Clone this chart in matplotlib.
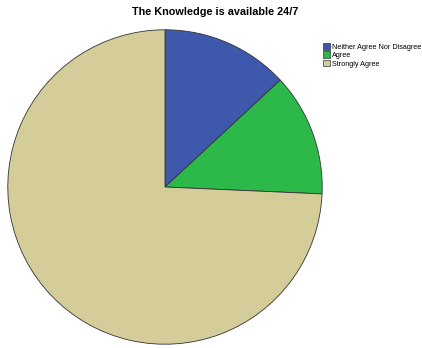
import matplotlib

matplotlib.use("Agg")

import matplotlib.pyplot as plt
from matplotlib.patches import Patch

categories = ["Neither Agree Nor Disagree", "Agree", "Strongly Agree"]
shares = [13.1, 12.6, 74.3]
colors = ["#3e58ac", "#2db84a", "#d4cc99"]

plt.rcParams["font.family"] = ["Liberation Sans", "DejaVu Sans"]

fig = plt.figure(figsize=(4.22, 3.48), dpi=100)
ax = fig.add_axes([7 / 422, 3 / 348, 316 / 422, 316 / 348])
ax.pie(
    shares,
    colors=colors,
    startangle=90,
    counterclock=False,
    wedgeprops={"edgecolor": "#333333", "linewidth": 0.6},
)
ax.set_xlim(-1.005, 1.005)
ax.set_ylim(-1.005, 1.005)
ax.set_aspect("equal")

fig.text(215 / 422, 1 - 12 / 348, "The Knowledge is available 24/7",
         ha="center", va="center", fontsize=7.8, fontweight="bold")

handles = [Patch(facecolor=c, edgecolor="#333333", linewidth=0.5) for c in colors]
fig.legend(handles, categories, loc="upper left",
           bbox_to_anchor=(318 / 422, 1 - 38 / 348), frameon=False,
           fontsize=5.2, handlelength=1.0, handleheight=1.0,
           handletextpad=0.2, labelspacing=0.1, borderpad=0.2)

fig.savefig("out.png", dpi=100)
